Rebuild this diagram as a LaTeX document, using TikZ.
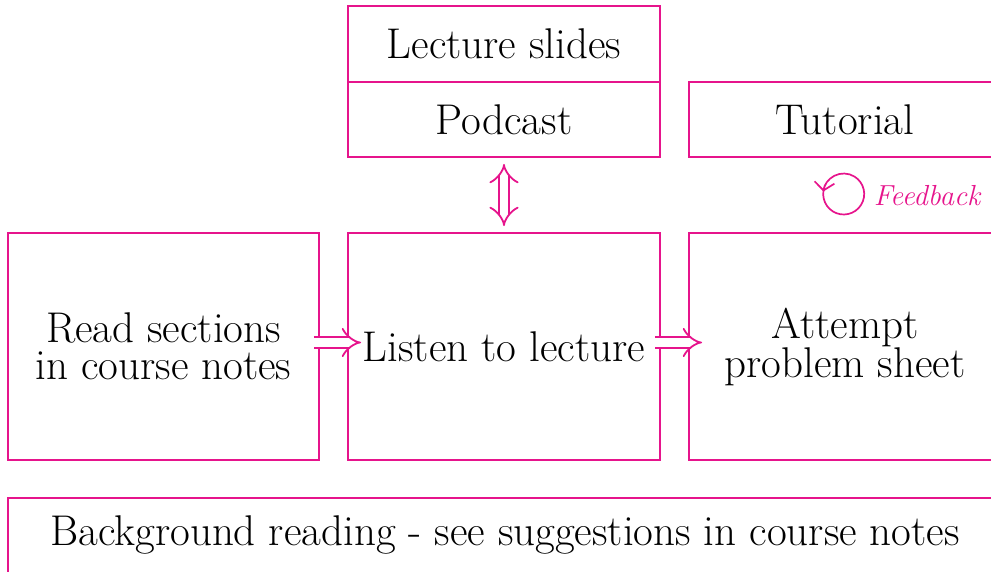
\documentclass[tikz,border=0pt]{standalone}
\usetikzlibrary{arrows.meta}
\definecolor{mag}{RGB}{230,20,140}
\begin{document}
\begin{tikzpicture}[x=1pt,y=-1pt,
  box/.style={draw=mag, line width=1.8pt, rectangle, inner sep=0pt, align=center,
    font=\fontsize{43}{37}\selectfont},
  darrow/.style={draw=mag, line width=1.8pt, double distance=8.5pt, double=white},
  fb/.style={font=\fontsize{29}{32}\selectfont\itshape, text=mag}]
\useasboundingbox (0,0) rectangle (991,571);
\clip (0,0) rectangle (991,571);
\node[box, minimum width=312pt, minimum height=76pt] (slides) at (504,44) {Lecture slides};
\node[box, minimum width=312pt, minimum height=75pt] (podcast) at (504,119.5) {Podcast};
\node[box, minimum width=312pt, minimum height=75pt] (tutorial) at (845,119.5) {Tutorial};
\node[box, minimum width=311pt, minimum height=227pt] (read) at (163.5,346.5) {Read sections\\in course notes};
\node[box, minimum width=312pt, minimum height=227pt, font=\fontsize{43}{39}\selectfont] (listen) at (504,346.5) {Listen to lecture};
\node[box, minimum width=312pt, minimum height=227pt, font=\fontsize{43}{39}\selectfont] (attempt) at (845,346.5) {Attempt\\problem sheet};
\node[box, anchor=north, minimum width=994pt, text height=48pt, text depth=70pt] (bg) at (505,497) {Background reading - see suggestions in course notes};
\draw[darrow, -{Implies[scale=1.3]}, shorten <=-6pt, shorten >=-14pt] ([yshift=4pt]read.east) -- ([yshift=4pt]listen.west);
\draw[darrow, -{Implies[scale=1.3]}, shorten <=-6pt, shorten >=-14pt] ([yshift=4pt]listen.east) -- ([yshift=4pt]attempt.west);
\draw[darrow, {Implies[scale=1.3]}-{Implies[scale=1.3]}, shorten <=6pt, shorten >=6pt] (podcast.south) -- (listen.north);
\coordinate (fbc) at (843.7,194);
\draw[mag, line width=1.7pt, -{Straight Barb[length=8pt, width=20pt]}] ([shift={(-148:20.5)}]fbc) arc[start angle=212, end angle=-173, radius=20.5];
\node[fb, anchor=base] (feedback) at (927,205) {Feedback};
\end{tikzpicture}
\end{document}
